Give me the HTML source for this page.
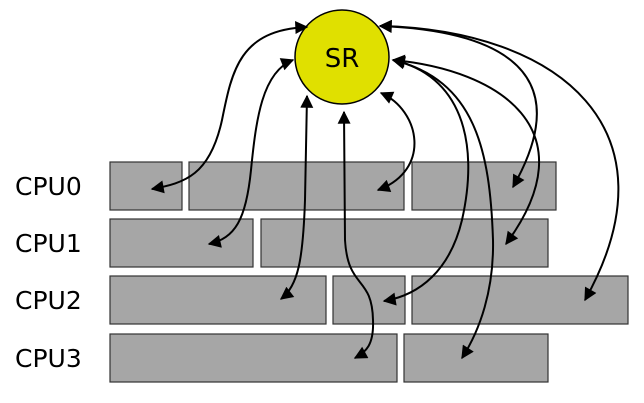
<!DOCTYPE html>
<html><head><meta charset="utf-8"><style>html,body{margin:0;padding:0;background:#fff;}svg{display:block}</style></head>
<body>
<svg width="644" height="403" viewBox="0 0 644 403" xmlns="http://www.w3.org/2000/svg">
<defs>
<marker id="a" viewBox="0 0 10 10" refX="9" refY="5" markerWidth="15" markerHeight="13" markerUnits="userSpaceOnUse" orient="auto-start-reverse">
<path d="M0,0 L10,5 L0,10 z" fill="#000"/>
</marker>
</defs>
<g font-family="DejaVu Sans, Liberation Sans, sans-serif" font-size="25" fill="#000">
<text x="15" y="195">CPU0</text>
<text x="15" y="252">CPU1</text>
<text x="15" y="309">CPU2</text>
<text x="15" y="367">CPU3</text>
</g>
<g fill="#a6a6a6" stroke="#333" stroke-width="1.2">
<rect x="110" y="162" width="72" height="48"/>
<rect x="189" y="162" width="215" height="48"/>
<rect x="412" y="162" width="144" height="48"/>
<rect x="110" y="219" width="143" height="48"/>
<rect x="261" y="219" width="287" height="48"/>
<rect x="110" y="276" width="216" height="48"/>
<rect x="333" y="276" width="72" height="48"/>
<rect x="412" y="276" width="216" height="48"/>
<rect x="110" y="334" width="287" height="48"/>
<rect x="404" y="334" width="144" height="48"/>
</g>
<circle cx="342" cy="57" r="47" fill="#e0e000" stroke="#000" stroke-width="1.5"/>
<text x="342" y="67" font-family="DejaVu Sans, Liberation Sans, sans-serif" font-size="26" text-anchor="middle">SR</text>
<g fill="none" stroke="#000" stroke-width="2" marker-start="url(#a)" marker-end="url(#a)">
<path d="M307,27 C240,30 232,70 222,120 C210,175 185,183 152,189"/>
<path d="M293,60 C262,72 256,120 251,170 C246,220 235,238 209,244"/>
<path d="M307,96 L305,200 C303,260 298,286 281,299"/>
<path d="M344,112 L345,240 C348,290 372,275 373,320 C374,345 366,352 355,358"/>
<path d="M381,93 C420,110 432,170 378,190"/>
<path d="M393,60 C460,75 480,140 462,220 C450,270 420,295 384,301"/>
<path d="M393,60 C475,80 490,150 493,240 C494,290 480,330 462,358"/>
<path d="M393,60 C500,70 590,130 506,244"/>
<path d="M380,26 C480,30 585,60 513,187"/>
<path d="M380,26 C560,30 680,130 585,300"/>
</g>
</svg>
</body></html>
